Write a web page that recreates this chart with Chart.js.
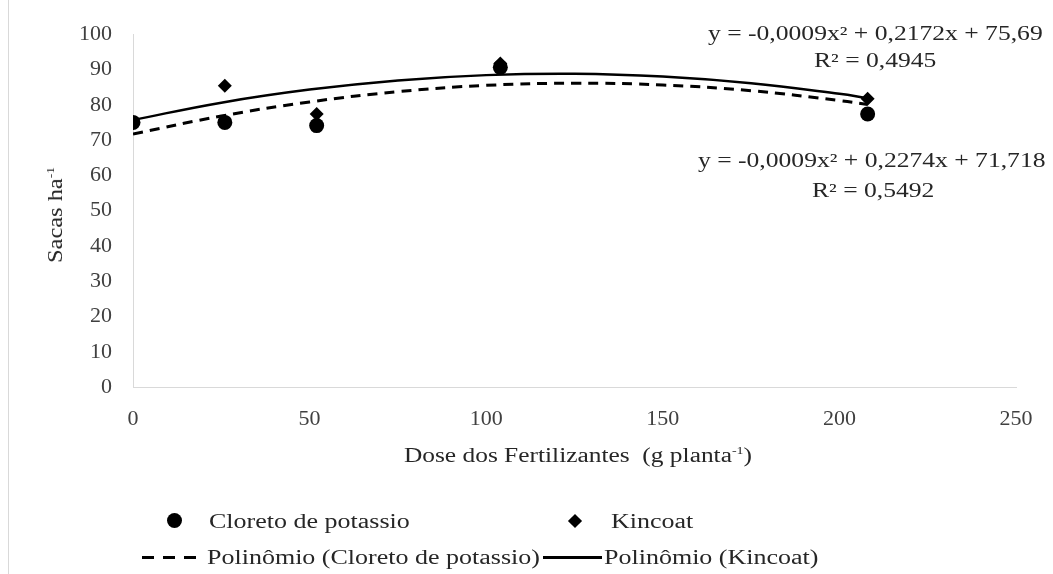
<!DOCTYPE html>
<html>
<head>
<meta charset="utf-8">
<script src="https://cdn.jsdelivr.net/npm/chart.js@4"></script>
<style>
  html, body { margin: 0; padding: 0; background: #fff; }
  #wrap { position: relative; width: 1053px; height: 574px; font-family: "Liberation Serif", "Times New Roman", serif; color: #262626; }
  #wrap canvas { position: absolute; left: 0; top: 0; }
  .txt { position: absolute; white-space: nowrap; font-size: 20px; line-height: 1; transform-origin: left center; transform: scaleX(1.28); }
  .leg { transform: scaleX(1.3); }
  .border { position: absolute; left: 8px; top: 0; width: 1px; height: 574px; background: #d9d9d9; }
  .mk-circle { position: absolute; width: 15px; height: 15px; border-radius: 50%; background: #000; }
  .mk-diamond { position: absolute; width: 10px; height: 10px; background: #000; transform: rotate(45deg); }
  .mk-dash { position: absolute; height: 3px; background: repeating-linear-gradient(to right, #000 0 12px, transparent 12px 21px); }
  .mk-solid { position: absolute; height: 3px; background: #000; }
</style>
</head>
<body>
<div id="wrap">
  <canvas id="doseChart" width="1053" height="574"></canvas>
  <div class="border"></div>

  <div class="txt" style="left:708px; top:23px;">y = -0,0009x² + 0,2172x + 75,69</div>
  <div class="txt" style="left:814px; top:50px;">R² = 0,4945</div>
  <div class="txt" style="left:698px; top:150px;">y = -0,0009x² + 0,2274x + 71,718</div>
  <div class="txt" style="left:812px; top:180px;">R² = 0,5492</div>

  <div class="txt" style="left:55px; top:215px; transform-origin: center; transform: translate(-50%, -50%) rotate(-90deg) scaleX(1.22);">Sacas ha<sup style="font-size:11px;">-1</sup></div>
  <div class="txt" style="left:578px; top:455px; transform-origin: center; transform: translate(-50%, -50%) scaleX(1.27);">Dose dos Fertilizantes&nbsp; (g planta<sup style="font-size:11px;">-1</sup>)</div>

  <div class="mk-circle" style="left:167px; top:513px;"></div>
  <div class="txt leg" style="left:209px; top:511px;">Cloreto de potassio</div>
  <div class="mk-diamond" style="left:570px; top:516px;"></div>
  <div class="txt leg" style="left:611px; top:511px;">Kincoat</div>

  <div class="mk-dash" style="left:142px; top:556px; width:54px;"></div>
  <div class="txt leg" style="left:207px; top:547px;">Polinômio (Cloreto de potassio)</div>
  <div class="mk-solid" style="left:543px; top:556px; width:59px;"></div>
  <div class="txt leg" style="left:604px; top:547px;">Polinômio (Kincoat)</div>
</div>
<script>
const doses = [0, 26, 52, 104, 208];
const cloretoValues = [75.0, 75.0, 74.1, 90.6, 77.4];
const kincoatValues = [74.8, 85.4, 77.4, 91.7, 81.7];

// trendline values
const trendDoses = [0, 25, 50, 75, 100, 125, 150, 175, 200, 208];
const trendCloreto = [71.7, 76.8, 80.8, 83.7, 85.5, 86.1, 85.6, 84.0, 81.2, 80.1];
const trendKincoat = [75.7, 80.6, 84.3, 86.9, 88.4, 88.8, 88.0, 86.1, 83.1, 81.9];

const xTicks = [0, 50, 100, 150, 200, 250];
const yTicks = [0, 10, 20, 30, 40, 50, 60, 70, 80, 90, 100];

const doseChartCanvas = document.querySelector("#doseChart");

function toPoints(xs, ys) {
  return xs.map((x, i) => ({ x, y: ys[i] }));
}

function renderDoseChart() {
  if (!(doseChartCanvas instanceof HTMLCanvasElement) || typeof Chart === "undefined") {
    return;
  }

  new Chart(doseChartCanvas, {
    type: "scatter",
    data: {
      datasets: [
        {
          label: "Cloreto de potassio",
          data: toPoints(doses, cloretoValues),
          pointStyle: "circle",
          pointRadius: 7.5,
          backgroundColor: "#000",
          borderColor: "#000",
          borderWidth: 0,
        },
        {
          label: "Kincoat",
          data: toPoints(doses, kincoatValues),
          pointStyle: "rectRot",
          pointRadius: 7,
          backgroundColor: "#000",
          borderColor: "#000",
          borderWidth: 0,
        },
        {
          label: "Polinômio (Kincoat)",
          data: toPoints(trendDoses, trendKincoat),
          showLine: true,
          pointRadius: 0,
          borderColor: "#000",
          borderWidth: 2.5,
          tension: 0.4,
        },
        {
          label: "Polinômio (Cloreto de potassio)",
          data: toPoints(trendDoses, trendCloreto),
          showLine: true,
          pointRadius: 0,
          borderColor: "#000",
          borderWidth: 3,
          borderDash: [10, 7],
          tension: 0.4,
        },
      ],
    },
    options: {
      responsive: false,
      animation: false,
      layout: {
        padding: { top: 33, right: 37, left: 0, bottom: 0 },
      },
      plugins: {
        legend: { display: false },
        tooltip: { enabled: false },
      },
      scales: {
        x: {
          type: "linear",
          min: 0,
          max: 250,
          afterFit: (scale) => {
            scale.height = 187;
          },
          afterBuildTicks: (scale) => {
            scale.ticks = xTicks.map((v) => ({ value: v }));
          },
          grid: { display: false, drawTicks: false },
          border: { color: "#d9d9d9", width: 1 },
          ticks: {
            padding: 19,
            color: "#404040",
            font: { family: "Liberation Serif", size: 22 },
          },
        },
        y: {
          min: 0,
          max: 100,
          afterFit: (scale) => {
            scale.width = 133;
          },
          afterBuildTicks: (scale) => {
            scale.ticks = yTicks.map((v) => ({ value: v }));
          },
          grid: { display: false, drawTicks: false },
          border: { color: "#d9d9d9", width: 1 },
          ticks: {
            padding: 21,
            color: "#404040",
            font: { family: "Liberation Serif", size: 22 },
          },
        },
      },
    },
  });
}

renderDoseChart();
</script>
</body>
</html>
